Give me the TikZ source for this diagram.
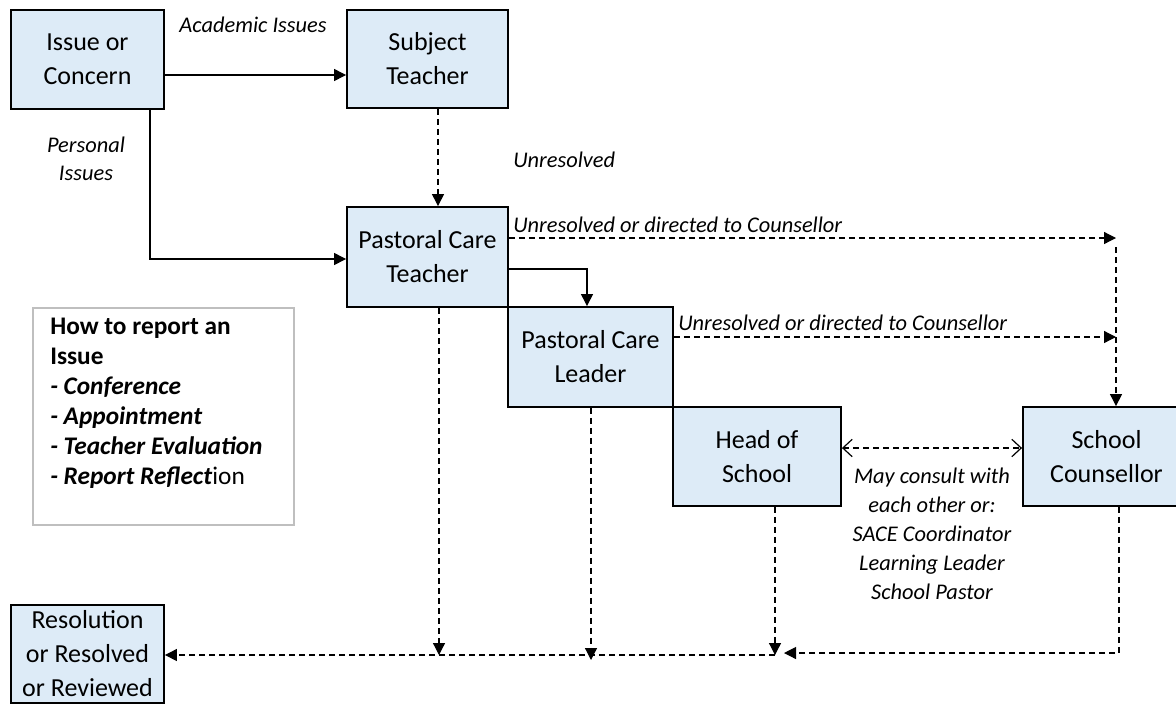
\documentclass[tikz,border=0pt]{standalone}
\usepackage{fontspec}
\setmainfont{Carlito}
\usepackage{tikz}
\usetikzlibrary{arrows.meta}
\definecolor{boxblue}{RGB}{221,235,247}
\definecolor{framegray}{RGB}{191,191,191}

\begin{document}
\begin{tikzpicture}[x=0.75pt,y=-0.75pt,
  box/.style 2 args={draw,fill=boxblue,line width=1.4pt,align=center,inner sep=0pt,
    minimum width=#1,minimum height=#2,font=\fontsize{19.5}{25.5}\selectfont},
  lbl/.style={font=\fontsize{16.8}{21.75}\selectfont\itshape,inner sep=0pt,align=center},
  link/.style={line width=0.9pt,-{Triangle[length=9pt,width=9pt]}},
  dsh/.style={link,dash pattern=on 4.5pt off 3pt}]
  \useasboundingbox (0,0) rectangle (1176,704);
  \clip (0,0) rectangle (1176,704);
  % the boxes
  \node[box={114.75pt}{74.25pt}] (issue) at (87.5,59.5) {Issue or\\Concern};
  \node[box={120.75pt}{73.5pt}] (subj) at (427.5,59) {Subject\\Teacher};
  \node[box={120.75pt}{75pt}] (pct) at (427.5,257) {Pastoral Care\\Teacher};
  \node[box={123.75pt}{75pt}] (pcl) at (590.5,357) {Pastoral Care\\Leader};
  \node[box={126pt}{74.25pt}] (head) at (757,456.5) {Head of\\School};
  \node[box={125.25pt}{74.25pt}] (couns) at (1106.5,456.5) {School\\Counsellor};
  \node[box={114.75pt}{73.5pt}] (res) at (87.5,654) {Resolution\\or Resolved\\or Reviewed};
  % how to report
  \draw[framegray,line width=1pt] (33,308) rectangle (294,525);
  \node[anchor=north west,align=left,inner sep=0pt,
        font=\fontsize{19pt}{22.5pt}\selectfont] (how) at (50,318)
    {\textbf{How to report an}\\\textbf{Issue}\\
     \textbf{\textit{- Conference}}\\\textbf{\textit{- Appointment}}\\
     \textbf{\textit{- Teacher Evaluation}}\\\textbf{\textit{- Report Reflect}}ion};
  % labels
  \node[lbl] (acad) at (253,25) {Academic Issues};
  \node[lbl,font=\fontsize{16.8}{21}\selectfont\itshape] (pers) at (86,159) {Personal\\Issues};
  \node[lbl,anchor=west] (unres) at (513,160) {Unresolved};
  \node[lbl,anchor=west] (dir1) at (513,225) {Unresolved or directed to Counsellor};
  \node[lbl,anchor=west] (dir2) at (678,323) {Unresolved or directed to Counsellor};
  \node[lbl] (consult) at (932,534) {May consult with\\each other or:\\SACE Coordinator\\Learning Leader\\School Pastor};
  % free ends
  \coordinate (c1) at (1116,238);
  \coordinate (c2) at (1116,337);
  \coordinate (b1) at (439,655);
  \coordinate (b2) at (591,660);
  \coordinate (b3) at (775,655);
  \coordinate (b4) at (784,653);
  % connectors
  \draw[link] (issue.east |- 0,75) -- (subj.west |- 0,75);
  \draw[link] (issue.south -| 150,0) |- (pct.west |- 0,259);
  \draw[dsh] (subj.south -| 438,0) -- (pct.north -| 438,0);
  \draw[link] (pct.east |- 0,269) -| (pcl.north -| 587,0);
  \draw[dsh] (pct.east |- c1) -- (c1);
  \draw[dsh] (pcl.east |- c2) -- (c2);
  \draw[dsh] ([yshift=-7pt]c1) -- (couns.north -| c1);
  \draw[line width=0.9pt,dash pattern=on 4.5pt off 3pt,
        {Straight Barb[length=7pt,width=13pt]}-{Straight Barb[length=7pt,width=13pt]}]
    (head.east |- 0,448) -- (couns.west |- 0,448);
  \draw[dsh] (pct.south -| b1) -- (b1);
  \draw[dsh] (pcl.south -| b2) -- (b2);
  \draw[dsh] (head.south -| b3) -- (b3);
  \draw[dsh] (couns.south -| 1119,0) |- (b4);
  \draw[dsh] (b3) -- (res.east |- b3);
\end{tikzpicture}
\end{document}
